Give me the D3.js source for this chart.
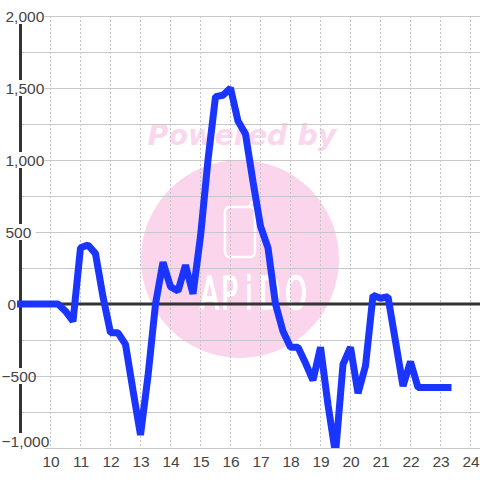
<!DOCTYPE html>
<html><head><meta charset="utf-8">
<script src="https://cdnjs.cloudflare.com/ajax/libs/d3/7.8.5/d3.min.js"></script>
<style>html,body{margin:0;padding:0;background:#fff}svg{display:block}text{font-family:"Liberation Sans",Arial,sans-serif}</style>
</head><body><svg id="c" width="480" height="480"></svg>
<script>
const hours=[9,9.25,9.5,9.75,10,10.25,10.5,10.75,11,11.25,11.5,11.75,12,12.25,12.5,12.75,13,13.25,13.5,13.75,14,14.25,14.5,14.75,15,15.25,15.5,15.75,16,16.25,16.5,16.75,17,17.25,17.5,17.75,18,18.25,18.5,18.75,19,19.25,19.5,19.75,20,20.25,20.5,20.75,21,21.25,21.5,21.75,22,22.25,22.5,22.75,23,23.25];
const values=[0,0,0,0,0,0,-50,-120,390,410,350,50,-200,-200,-280,-600,-910,-500,0,290,120,90,270,70,470,1000,1440,1450,1500,1270,1180,850,540,390,0,-190,-300,-300,-410,-530,-300,-700,-1040,-420,-300,-620,-430,60,40,50,-260,-570,-400,-580,-580,-580,-580,-580];
const xTicks=[10,11,12,13,14,15,16,17,18,19,20,21,22,23,24];
const yMajor=[2000,1500,1000,500,0,-500,-1000];
const yMinor=[1750,1250,750,250,-250,-750];

const svg=d3.select("#c");
const x=d3.scaleLinear().domain([9,24]).range([20.5,470.5]);
const y=d3.scaleLinear().domain([-1000,2000]).range([448,16]);
const fmt=d3.format(",");

// watermark
const wm=svg.append("g");
wm.append("text").attr("x",242).attr("y",145).attr("text-anchor","middle")
  .style("font-family","DejaVu Sans").style("font-weight","bold").style("font-style","italic")
  .style("font-size","28.5px").attr("fill","#fbd7ee").text("Powered by");
wm.append("circle").attr("cx",240).attr("cy",259).attr("r",99).attr("fill","#fbd5ec");
wm.append("rect").attr("x",225).attr("y",207).attr("width",30).attr("height",50).attr("rx",5)
  .attr("fill","none").attr("stroke","#fff").attr("stroke-width",2.5);
wm.append("path").attr("d","M249 207L252 201").attr("stroke","#fff").attr("stroke-width",2.5);
const scaleX=0.62;
wm.append("text").attr("transform",`translate(0,309) scale(${scaleX},1)`)
  .attr("x",[200,221,245,259,285].map(p=>p/scaleX).join(" ")).attr("y",0)
  .style("font-family","DejaVu Sans").style("font-size","45px")
  .attr("fill","#fff").attr("stroke","#fff").attr("stroke-width",1.5).text("APiDO");

// grid
const grid=svg.append("g");
grid.selectAll(".v").data(xTicks).join("line").attr("x1",d=>x(d)).attr("x2",d=>x(d))
  .attr("y1",16).attr("y2",448).attr("stroke","#c4c4c4").attr("stroke-dasharray","2,2");
grid.selectAll(".h").data(yMajor.concat(yMinor)).join("line").attr("x1",20).attr("x2",480)
  .attr("y1",d=>Math.round(y(d))+.5).attr("y2",d=>Math.round(y(d))+.5).attr("stroke","#c8c8c8").attr("stroke-width",1);

// axes lines
svg.append("line").attr("x1",20.5).attr("x2",20.5).attr("y1",16).attr("y2",448).attr("stroke","#333").attr("stroke-width",3);
svg.append("line").attr("x1",20).attr("x2",480).attr("y1",y(0)).attr("y2",y(0)).attr("stroke","#333").attr("stroke-width",3);

// y labels with white boxes
const yl=svg.append("g");
yMajor.forEach(d=>{
  const yy=d===-1000?441:y(d), s=fmt(d), xs=d<0?1.5:(d===0?7.5:5.5);
  if(d!==0) yl.append("rect").attr("x",xs).attr("y",yy-8).attr("width",d===500||d===-500?30:d===-1000?43:39).attr("height",16).attr("fill","#fff");
  yl.append("text").attr("x",xs).attr("y",yy+5.5).attr("font-size",15.5).attr("fill","#444").text(s);
});

// x labels
svg.append("g").selectAll("text").data(xTicks).join("text").attr("x",d=>x(d)+.5).attr("y",466.5)
  .attr("text-anchor","middle").attr("font-size",15.5).attr("fill","#444").text(d=>d);

// line
svg.append("clipPath").attr("id","cp").append("rect").attr("x",0).attr("y",16).attr("width",480).attr("height",432);
svg.append("path").datum(hours.map((h,i)=>[h,values[i]]))
  .attr("d",d3.line().x(d=>x(d[0])).y(d=>y(d[1])))
  .attr("clip-path","url(#cp)").attr("fill","none").attr("stroke","#1a35ff").attr("stroke-width",7)
  .attr("stroke-linecap","square").attr("stroke-linejoin","bevel");
</script></body></html>
